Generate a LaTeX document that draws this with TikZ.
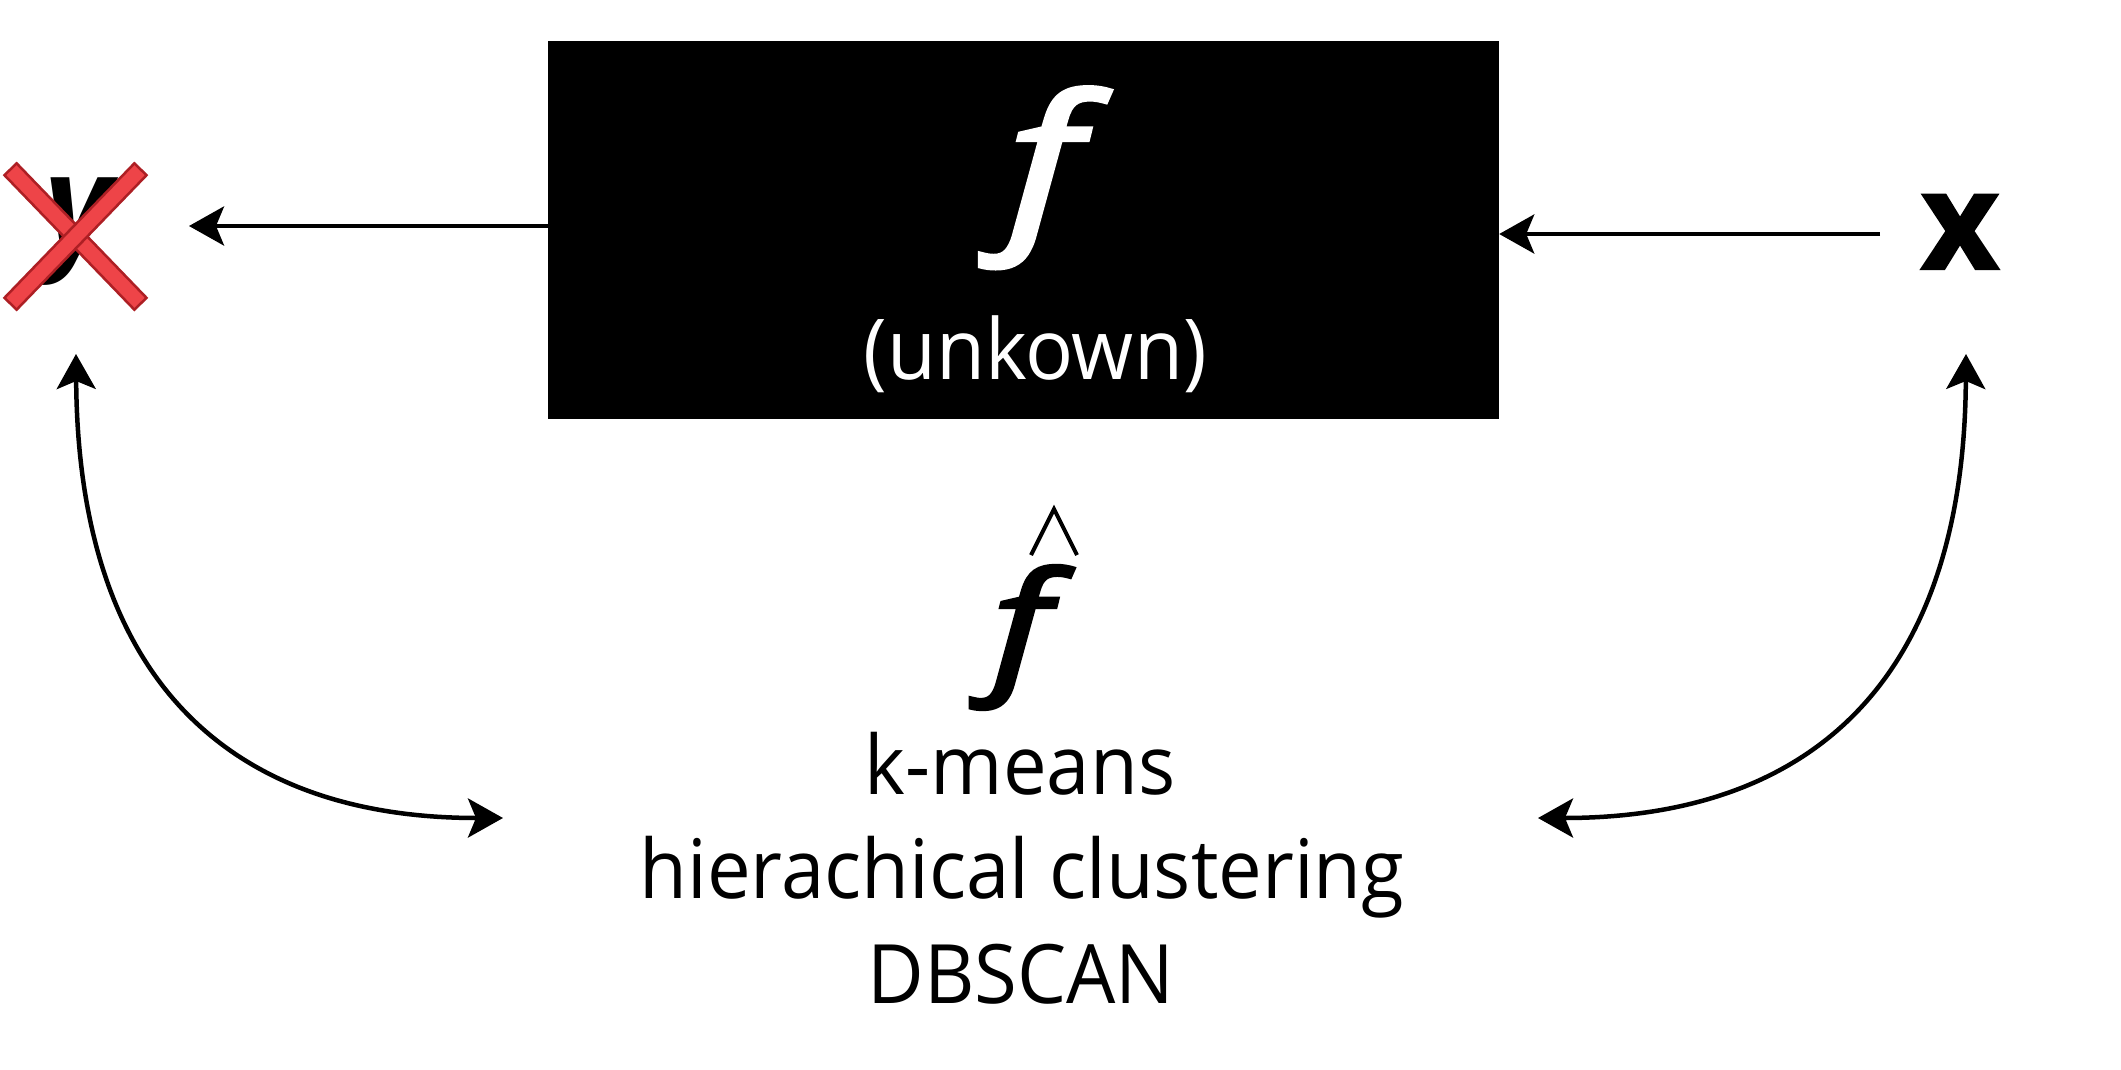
\documentclass[tikz,border=0pt]{standalone}
\usepackage{fontspec}
\setmainfont{Open Sans}[FakeStretch=0.95]
\newfontface\fsymfont{Open Sans Italic}[RawFeature={embolden=2.5}]
\newfontface\xsymfont{Open Sans Bold}[RawFeature={embolden=1.5}]
\usetikzlibrary{arrows.meta}
\definecolor{crossfill}{HTML}{EE4448}
\definecolor{crossline}{HTML}{AD1F24}
\tikzset{
  tipshape/.tip={Stealth[length=35pt,width=39pt,inset=8pt]},
  arr/.style={line width=4.5pt,-tipshape},
  dblarr/.style={line width=4.5pt,tipshape-tipshape},
  bar/.style={fill=crossfill,draw=crossline,line width=2.5pt},
  algtext/.style={font=\fontsize{82}{100}\selectfont,anchor=base,inner sep=0pt},
}
\begin{document}
\begin{tikzpicture}[x=1pt,y=-1pt]
\useasboundingbox (0,0) rectangle (2121,1069);
% black box
\node[fill=black,minimum width=951pt,minimum height=378pt,inner sep=0pt] (F) at (1023.5,230) {};
\node[anchor=base,inner sep=0pt,text=white,font=\fontsize{180}{200}\fsymfont,xscale=1.3] (fsym) at (1044,225) {f};
\node[anchor=base,inner sep=0pt,text=white,font=\fontsize{84}{100}\selectfont] (unk) at (1035,379) {(unkown)};
% x and y
\node[anchor=base,inner sep=0pt,font=\fontsize{136}{150}\xsymfont] (X) at (1960,269) {x};
\node[anchor=base,inner sep=0pt,font=\fontsize{137}{150}\selectfont\bfseries\itshape] (Y) at (78,252) {y};
% cross
\draw[bar,rotate around={-46:(75.5,236.5)}] (-18,228) rectangle (169,245);
\draw[bar,rotate around={46:(75.5,236.5)}] (-18,228) rectangle (169,245);
% f hat
\node[anchor=base,inner sep=0pt,font=\fontsize{143}{160}\fsymfont,xscale=1.3] (fhat) at (1021,675) {f};
\draw[line width=4pt] (1031,555) -- (1054,509) -- (1077,555);
% algorithms
\node[algtext] (km) at (1020,794) {k-means};
\node[algtext] (hc) at (1022,898) {hierachical clustering};
\node[algtext] (db) at (1021,1003) {DBSCAN};
% connectors
\coordinate (yIn) at (189,226);
\coordinate (xOut) at (1880,234);
\draw[arr] (F.west |- yIn) -- (yIn);
\draw[arr] (xOut) -- (F.east |- xOut);
\coordinate (yBot) at (76,354);
\coordinate (algL) at (503,818);
\coordinate (xBot) at (1966,354);
\coordinate (algR) at (1538,818);
\draw[dblarr] (yBot) .. controls (78,680) and (230,818) .. (algL);
\draw[dblarr] (xBot) .. controls (1964,680) and (1812,818) .. (algR);
\end{tikzpicture}
\end{document}
